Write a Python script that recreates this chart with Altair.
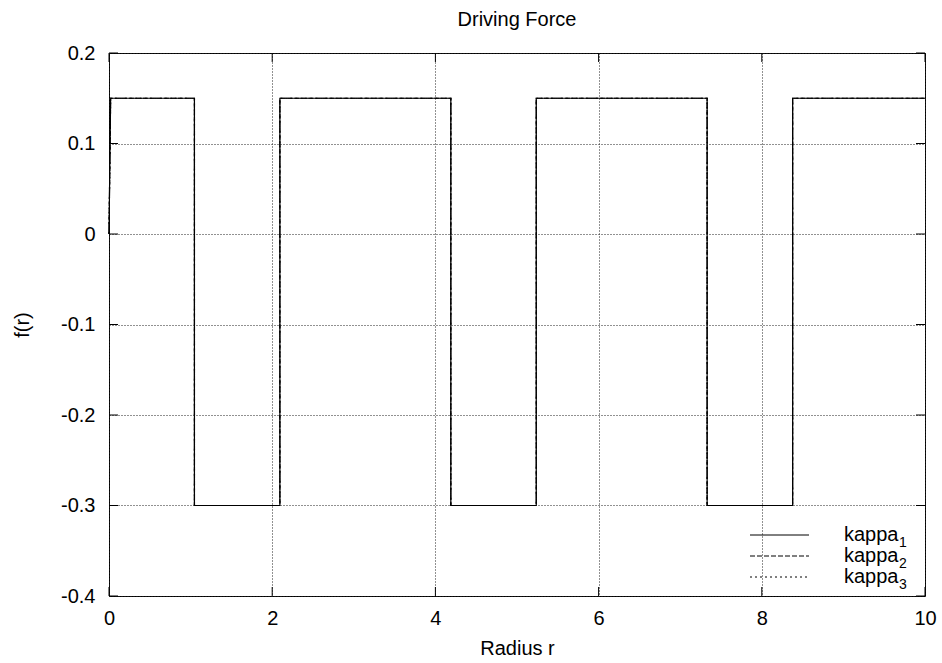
import altair as alt
import pandas as pd

# ---- data ----
r_points = [0.0, 0.02, 1.047, 1.047, 2.094, 2.094, 4.189, 4.189,
            5.236, 5.236, 7.330, 7.330, 8.378, 8.378, 10.0]
f_points = [0.0, 0.15, 0.15, -0.30, -0.30, 0.15, 0.15, -0.30,
            -0.30, 0.15, 0.15, -0.30, -0.30, 0.15, 0.15]
series_names = ["kappa1", "kappa2", "kappa3"]
legend_text = ["kappa", "kappa", "kappa"]
legend_sub = ["1", "2", "3"]
x_ticks = [0, 2, 4, 6, 8, 10]
y_ticks = [-0.4, -0.3, -0.2, -0.1, 0.0, 0.1, 0.2]

rows = []
for s in series_names:
    for i, (r, f) in enumerate(zip(r_points, f_points)):
        rows.append({"series": s, "r": r, "f": f, "idx": i})
df = pd.DataFrame(rows)
leg_df = pd.DataFrame({"series": series_names, "txt": legend_text, "sub": legend_sub})
xt_df = pd.DataFrame({"r": x_ticks})
yt_df = pd.DataFrame({"f": y_ticks})

W, H = 816, 543
FONT = "Liberation Sans"
FS = 20

xscale = alt.Scale(domain=[0, 10], nice=False, zero=False)
yscale = alt.Scale(domain=[-0.4, 0.2], nice=False, zero=False)

dashes = {"kappa1": None, "kappa2": [5, 2], "kappa3": [2, 3]}

x_axis = alt.Axis(values=x_ticks, title="Radius r", grid=True, gridDash=[1, 2],
                  gridColor="#222", gridOpacity=1, gridWidth=1, ticks=False, domain=False,
                  labelFont=FONT, labelFontSize=FS, labelColor="black", labelPadding=12,
                  titleFont=FONT, titleFontSize=FS, titleFontWeight="normal",
                  titleColor="black", titlePadding=10, labelFlush=False)
y_axis = alt.Axis(values=y_ticks, title="f(r)", grid=True, gridDash=[1, 2],
                  gridColor="#222", gridOpacity=1, gridWidth=1, ticks=False, domain=False,
                  labelFont=FONT, labelFontSize=FS, labelColor="black", labelPadding=14,
                  labelExpr="datum.value + ''",
                  titleFont=FONT, titleFontSize=FS, titleFontWeight="normal",
                  titleColor="black", titlePadding=28, labelFlush=False)

X = alt.X("r:Q", scale=xscale, axis=x_axis)
Y = alt.Y("f:Q", scale=yscale, axis=y_axis)

layers = []
for s in reversed(series_names):
    kw = {}
    if dashes[s] is not None:
        kw["strokeDash"] = dashes[s]
    layers.append(
        alt.Chart(df).transform_filter(alt.datum.series == s)
        .mark_line(color="black", strokeWidth=1.2, **kw)
        .encode(x=X, y=Y, order=alt.Order("idx:Q"))
    )

# inward tick marks on all four sides
tick_len = 9
layers.append(alt.Chart(xt_df).mark_rule(color="black", strokeWidth=1).encode(
    x=X, y=alt.value(H), y2=alt.value(H - tick_len)))
layers.append(alt.Chart(xt_df).mark_rule(color="black", strokeWidth=1).encode(
    x=X, y=alt.value(0), y2=alt.value(tick_len)))
layers.append(alt.Chart(yt_df).mark_rule(color="black", strokeWidth=1).encode(
    y=Y, x=alt.value(0), x2=alt.value(tick_len)))
layers.append(alt.Chart(yt_df).mark_rule(color="black", strokeWidth=1).encode(
    y=Y, x=alt.value(W), x2=alt.value(W - tick_len)))

# legend (inside, bottom right)
for i, s in enumerate(series_names):
    kw = {}
    if dashes[s] is not None:
        kw["strokeDash"] = dashes[s]
    ly = 482 + 21 * i
    layers.append(alt.Chart(leg_df).transform_filter(alt.datum.series == s)
                  .mark_rule(color="black", strokeWidth=1, **kw)
                  .encode(x=alt.value(641), x2=alt.value(700), y=alt.value(ly)))
    layers.append(alt.Chart(leg_df).transform_filter(alt.datum.series == s)
                  .mark_text(font=FONT, fontSize=FS, align="left", baseline="alphabetic", color="black")
                  .encode(text="txt:N", x=alt.value(735), y=alt.value(ly + 6)))
    layers.append(alt.Chart(leg_df).transform_filter(alt.datum.series == s)
                  .mark_text(font=FONT, fontSize=14, align="left", baseline="alphabetic", color="black")
                  .encode(text="sub:N", x=alt.value(790), y=alt.value(ly + 12)))

chart = alt.layer(*layers).properties(
    width=W, height=H,
    title=alt.TitleParams("Driving Force", font=FONT, fontSize=FS, fontWeight="normal",
                          color="black", anchor="middle", offset=13),
    autosize=alt.AutoSizeParams(type="none"),
    padding={"left": 109, "top": 53, "right": 942 - 109 - W, "bottom": 663 - 53 - H},
).configure(background="white").configure_view(stroke="black", strokeWidth=1)

chart.save("out.html", embed_options={"renderer": "svg", "actions": False})
